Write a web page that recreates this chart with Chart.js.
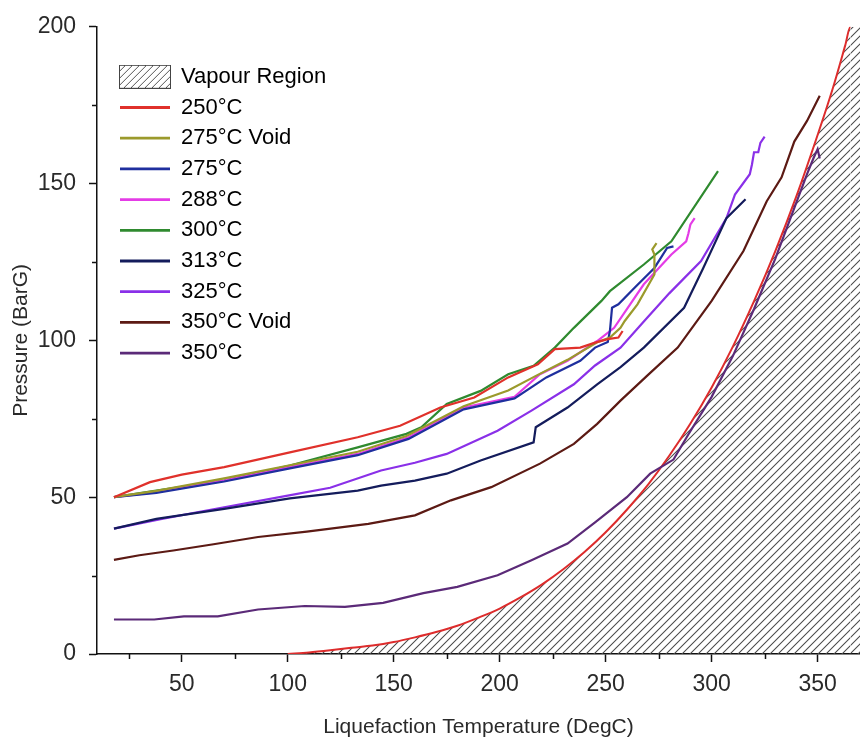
<!DOCTYPE html>
<html>
<head>
<meta charset="utf-8">
<title>Pressure vs Liquefaction Temperature</title>
<script src="https://cdn.jsdelivr.net/npm/chart.js@4.4.1/dist/chart.umd.min.js"></script>
<style>
  html, body { margin: 0; padding: 0; background: #fff; }
  #grafica { display: block; }
</style>
</head>
<body>
<canvas id="grafica" width="860" height="740"></canvas>
<script>
// ticks
var xMajor = [50, 100, 150, 200, 250, 300, 350];
var xMinor = [25, 75, 125, 175, 225, 275, 325];
var yMajor = [0, 50, 100, 150, 200];
var yMinor = [25, 75, 125, 175];

// limite de la region de vapor (curva de saturacion)
var satT = [100, 110, 120, 130, 140, 150, 160, 170, 180, 190, 200, 210, 220, 230, 240, 250, 260, 270, 280, 290, 300, 310, 320, 330, 340, 350, 357, 363, 365.5, 380];
var satP = [0, 0.5, 1.2, 2, 2.7, 3.8, 5.3, 7, 9, 11.6, 14.5, 18.1, 22.2, 27, 32.5, 38.8, 46, 54, 63.2, 73.5, 85, 98, 112.5, 128.4, 146, 165.5, 180, 194, 200, 200];

// series
var t250 = [18, 35, 50, 70, 101, 133, 153, 172, 188, 204, 218, 226, 238, 245, 251, 256, 258];
var p250 = [50, 54.8, 57.2, 59.6, 64.3, 69.1, 72.8, 78.6, 81.8, 88.2, 92.4, 97.2, 97.7, 99.3, 100.4, 100.9, 103];

var t275v = [18, 38, 70, 101, 133, 156, 183, 204, 218, 232, 246, 252, 257, 259, 265, 273, 273, 272, 274];
var p275v = [50, 52, 56, 60.2, 64.5, 69.5, 79, 84, 89, 93.8, 99.4, 100.9, 104, 106.2, 111.5, 121, 127.4, 129, 131];

var t275 = [18, 38, 70, 101, 133, 157, 183, 207, 222, 238, 245, 251, 252, 253, 256, 264, 273, 279, 282];
var p275 = [50, 51.4, 55, 59.2, 63.4, 68.6, 78, 81.5, 88.2, 93.5, 97.7, 99.5, 103, 110.4, 111.5, 117, 123.1, 129.5, 130];

var t288 = [18, 38, 70, 101, 133, 157, 183, 207, 219, 232, 246, 254, 268, 281, 288, 289, 290, 292];
var p288 = [50, 51.6, 55.3, 59.6, 63.8, 69.1, 78.6, 82, 89.2, 93.5, 99.8, 104, 117.9, 127.4, 131.6, 134, 137, 139];

var t300 = [18, 38, 70, 101, 133, 156, 163, 175, 191, 204, 216, 226, 235, 248, 252, 268, 281, 303];
var p300 = [50, 52.1, 55.3, 60.1, 65.9, 70.2, 72.3, 79.7, 83.9, 89.2, 91.9, 97.7, 104, 112.6, 115.7, 124.2, 131.6, 154];

var t313 = [18, 38, 70, 101, 133, 144, 160, 175, 191, 216, 217, 232, 246, 257, 268, 287, 296, 307, 316];
var p313 = [40, 43.1, 46.3, 49.6, 52.1, 53.7, 55.3, 57.5, 61.7, 67.5, 72.3, 78.6, 86, 91.5, 97.7, 110.4, 123, 139, 145];

var t325 = [18, 40, 70, 100, 120, 144, 160, 175, 199, 215, 235, 245, 257, 268, 280, 295, 307, 311, 318, 319, 320, 322, 323, 325];
var p325 = [40, 43, 46.8, 50.5, 53, 58.5, 61, 63.8, 71.2, 77.6, 86, 92, 97.7, 106, 115, 125.3, 139, 146.5, 153, 156, 160, 160, 163, 165];

var t350v = [18, 30, 46, 65, 86, 109, 138, 160, 177, 196, 219, 235, 246, 257, 270, 284, 300, 315, 326, 333, 339, 345, 351];
var p350v = [30, 31.5, 33, 35, 37.3, 39, 41.5, 44.2, 49, 53.2, 60.7, 67, 73.4, 80.8, 89, 97.7, 112.6, 128.5, 144.4, 152, 163.4, 170, 178];

var t350 = [18, 37, 51, 67, 86, 108, 127, 145, 164, 180, 199, 215, 232, 245, 260, 271, 282, 289, 300, 310, 320, 330, 340, 345, 348, 350, 351];
var p350 = [11, 11, 12, 12, 14.2, 15.3, 15, 16.3, 19.4, 21.4, 25.1, 29.9, 35.2, 42, 50, 57.5, 62, 70, 82, 95, 110, 126, 144, 153, 158, 161, 158];

var FONT = 'Arial, "Liberation Sans", Helvetica, sans-serif';

function pts(xs, ys) {
    return xs.map(function(x, i) { return {x: x, y: ys[i]}; });
}

// trama rayada para la region de vapor
function hatchTile(step, color, lw) {
    var c = document.createElement('canvas');
    c.width = step; c.height = step;
    var g = c.getContext('2d');
    g.strokeStyle = color; g.lineWidth = lw;
    g.beginPath();
    g.moveTo(0, step); g.lineTo(step, 0);
    g.moveTo(-2, 2); g.lineTo(2, -2);
    g.moveTo(step - 2, step + 2); g.lineTo(step + 2, step - 2);
    g.stroke();
    return c;
}

function hatchBox(w, h) {
    var c = document.createElement('canvas');
    c.width = w; c.height = h;
    var g = c.getContext('2d');
    g.fillStyle = '#fff';
    g.fillRect(0, 0, w, h);
    g.fillStyle = g.createPattern(hatchTile(7, '#555', 1), 'repeat');
    g.fillRect(0, 0, w, h);
    g.strokeStyle = '#444'; g.lineWidth = 1;
    g.strokeRect(0.5, 0.5, w - 1, h - 1);
    return c;
}

var ctx = document.getElementById('grafica').getContext('2d');
var hatchPattern = ctx.createPattern(hatchTile(8, '#4a4a4a', 1.05), 'repeat');
var legendHatch = hatchBox(52, 24);

function serie(label, xs, ys, color) {
    return {
        label: label,
        data: pts(xs, ys),
        borderColor: color,
        backgroundColor: color,
        borderWidth: 2.2,
        pointRadius: 0,
        fill: false,
        tension: 0
    };
}

var series = [
    serie('250\u00B0C', t250, p250, '#e0312b'),
    serie('275\u00B0C Void', t275v, p275v, '#9b9a2c'),
    serie('275\u00B0C', t275, p275, '#1f2f9e'),
    serie('288\u00B0C', t288, p288, '#e43ce6'),
    serie('300\u00B0C', t300, p300, '#2f8a2f'),
    serie('313\u00B0C', t313, p313, '#141c5c'),
    serie('325\u00B0C', t325, p325, '#8a30e8'),
    serie('350\u00B0C Void', t350v, p350v, '#5c1a14'),
    serie('350\u00B0C', t350, p350, '#5b2a78')
];

var vapour = {
    label: 'Vapour Region',
    data: pts(satT, satP),
    borderColor: '#dd2c2c',
    borderWidth: 2,
    backgroundColor: hatchPattern,
    pointRadius: 0,
    fill: 'origin',
    cubicInterpolationMode: 'monotone',
    segment: {
        borderColor: function(c) { return c.p0.parsed.y >= 200 ? 'rgba(0,0,0,0)' : undefined; }
    }
};

// ticks menores
var minorTicks = {
    id: 'minorTicks',
    afterDraw: function(chart) {
        var c = chart.ctx, xs = chart.scales.x, ys = chart.scales.y;
        c.save();
        c.strokeStyle = '#111';
        c.lineWidth = 1.5;
        c.beginPath();
        xMinor.forEach(function(v) {
            if (v < xs.min || v > xs.max) return;
            var px = Math.round(xs.getPixelForValue(v)) + 0.5;
            c.moveTo(px, xs.top);
            c.lineTo(px, xs.top + 5);
        });
        yMinor.forEach(function(v) {
            var py = Math.round(ys.getPixelForValue(v)) + 0.5;
            c.moveTo(ys.right, py);
            c.lineTo(ys.right - 5, py);
        });
        c.stroke();
        c.restore();
    }
};

// leyenda dentro del area de la grafica
var legendPlace = {
    id: 'legendPlace',
    afterLayout: function(chart) {
        chart.legend.left = chart.chartArea.left + 14.3;
        chart.legend.top = chart.chartArea.top + 30.3;
    }
};

window.pressureChart = new Chart(ctx, {
    type: 'line',
    data: {
        datasets: series.concat([vapour])
    },
    options: {
        responsive: false,
        animation: false,
        devicePixelRatio: 1,
        layout: { padding: { top: 25, right: 0, bottom: 0, left: 0 } },
        plugins: {
            tooltip: { enabled: false },
            legend: {
                display: true,
                position: 'chartArea',
                align: 'start',
                labels: {
                    usePointStyle: true,
                    pointStyleWidth: 50,
                    boxHeight: 22,
                    padding: 8.7,
                    color: '#222',
                    font: { size: 22, family: FONT },
                    generateLabels: function(chart) {
                        var items = [{
                            text: 'Vapour Region',
                            pointStyle: legendHatch,
                            fillStyle: 'rgba(0,0,0,0)',
                            strokeStyle: 'rgba(0,0,0,0)',
                            lineWidth: 0,
                            hidden: false,
                            datasetIndex: series.length
                        }];
                        series.forEach(function(s, i) {
                            items.push({
                                text: s.label,
                                pointStyle: 'line',
                                fillStyle: s.borderColor,
                                strokeStyle: s.borderColor,
                                lineWidth: 2.8,
                                hidden: false,
                                datasetIndex: i
                            });
                        });
                        return items;
                    }
                }
            }
        },
        scales: {
            x: {
                type: 'linear',
                min: 10,
                max: 370,
                afterBuildTicks: function(scale) {
                    scale.ticks = xMajor.map(function(v) { return {value: v}; });
                },
                afterFit: function(scale) { scale.height = 86; },
                border: { display: true, color: '#111', width: 1.5 },
                grid: { drawOnChartArea: false, drawTicks: true, tickLength: 8, tickColor: '#111', tickWidth: 1.5 },
                ticks: { color: '#2a2a2a', font: { size: 23, family: FONT }, padding: 9, maxRotation: 0, autoSkip: false },
                title: {
                    display: true,
                    text: 'Liquefaction Temperature (DegC)',
                    color: '#2a2a2a',
                    font: { size: 21, family: FONT },
                    padding: { top: 0, bottom: 0 }
                }
            },
            y: {
                type: 'linear',
                min: 0,
                max: 200,
                afterBuildTicks: function(scale) {
                    scale.ticks = yMajor.map(function(v) { return {value: v}; });
                },
                afterFit: function(scale) { scale.width = 97; },
                border: { display: true, color: '#111', width: 1.5 },
                grid: { drawOnChartArea: false, drawTicks: true, tickLength: 8, tickColor: '#111', tickWidth: 1.5 },
                ticks: { color: '#2a2a2a', font: { size: 23, family: FONT }, padding: 13 },
                title: {
                    display: true,
                    text: 'Pressure (BarG)',
                    color: '#2a2a2a',
                    font: { size: 21, family: FONT },
                    padding: { top: 9, bottom: 0 }
                }
            }
        }
    },
    plugins: [minorTicks, legendPlace]
});
</script>
</body>
</html>
